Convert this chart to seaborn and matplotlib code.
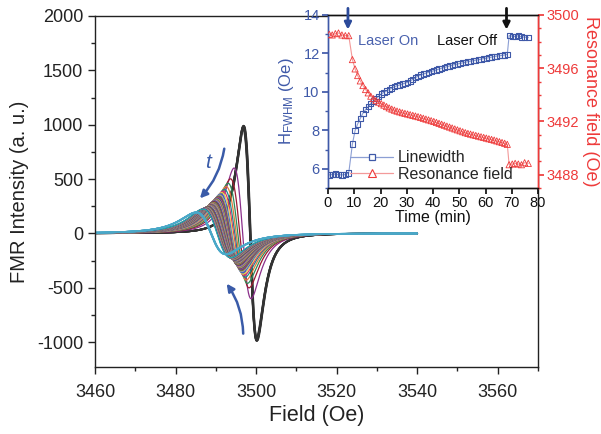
import numpy as np
import pandas as pd
import matplotlib
matplotlib.use("Agg")
import matplotlib.pyplot as plt
import seaborn as sns
from matplotlib.lines import Line2D
from matplotlib.ticker import MultipleLocator

# ---------------- data ----------------
time_pre = [0.5, 1.6, 2.8, 4.0, 5.3, 6.6, 7.9]
lw_pre = [5.68, 5.70, 5.73, 5.69, 5.68, 5.70, 5.78]
rf_pre = [3498.55, 3498.50, 3498.60, 3498.65, 3498.50, 3498.45, 3498.45]

time_on = [9.3, 10.3, 11.3, 12.3, 13.3, 14.3, 15.3, 16.3, 17.3, 18.3,
           19.3, 20.3, 21.3, 22.3, 23.3, 24.3, 25.3, 26.3, 27.3, 28.3,
           29.3, 30.3, 31.3, 32.3, 33.3, 34.3, 35.3, 36.3, 37.3, 38.3,
           39.3, 40.3, 41.3, 42.3, 43.3, 44.3, 45.3, 46.3, 47.3, 48.3,
           49.3, 50.3, 51.3, 52.3, 53.3, 54.3, 55.3, 56.3, 57.3, 58.3,
           59.3, 60.3, 61.3, 62.3, 63.3, 64.3, 65.3, 66.3, 67.3, 68.3]
lw_on = [7.29, 7.98, 8.33, 8.62, 8.89, 9.08, 9.23, 9.38, 9.53, 9.66,
         9.78, 9.89, 9.98, 10.05, 10.12, 10.20, 10.27, 10.32, 10.36, 10.41,
         10.45, 10.50, 10.57, 10.65, 10.74, 10.82, 10.88, 10.93, 10.97, 11.02,
         11.06, 11.10, 11.14, 11.19, 11.23, 11.27, 11.31, 11.35, 11.39, 11.42,
         11.45, 11.48, 11.51, 11.54, 11.57, 11.60, 11.62, 11.65, 11.67, 11.70,
         11.73, 11.75, 11.78, 11.81, 11.84, 11.86, 11.88, 11.90, 11.92, 11.95]
rf_on = [3496.65, 3495.95, 3495.45, 3495.05, 3494.70, 3494.40, 3494.15, 3493.90, 3493.72, 3493.57,
         3493.45, 3493.34, 3493.23, 3493.12, 3493.02, 3492.93, 3492.85, 3492.78, 3492.72, 3492.66,
         3492.61, 3492.56, 3492.51, 3492.46, 3492.41, 3492.36, 3492.30, 3492.24, 3492.18, 3492.12,
         3492.06, 3492.00, 3491.93, 3491.86, 3491.79, 3491.72, 3491.65, 3491.58, 3491.51, 3491.44,
         3491.37, 3491.30, 3491.23, 3491.16, 3491.10, 3491.05, 3491.00, 3490.95, 3490.90, 3490.85,
         3490.80, 3490.75, 3490.70, 3490.65, 3490.60, 3490.54, 3490.48, 3490.42, 3490.36, 3490.28]

time_off = [69.0, 70.2, 71.3, 72.5, 73.7, 74.9, 76.3]
lw_off = [12.93, 12.90, 12.88, 12.92, 12.86, 12.85, 12.83]
rf_off = [3488.75, 3488.80, 3488.85, 3488.80, 3488.75, 3488.90, 3488.85]

peak_first = 990.0          # peak height of the first FMR derivative curve (a.u.)

x_ticks = [3460, 3480, 3500, 3520, 3540, 3560]
y_ticks = [-1000, -500, 0, 500, 1000, 1500, 2000]

time_all = time_pre + time_on + time_off
lw_all = lw_pre + lw_on + lw_off
rf_all = rf_pre + rf_on + rf_off

# ---------------- styling ----------------
sns.set_theme(style="ticks")
plt.rcParams["font.family"] = ["Liberation Sans", "DejaVu Sans"]
plt.rcParams["mathtext.fontset"] = "custom"
plt.rcParams["mathtext.rm"] = "Liberation Sans"
plt.rcParams["mathtext.it"] = "Liberation Sans:italic"
plt.rcParams["axes.unicode_minus"] = False

BLUE = "#3F59A8"
LBLUE = "#8C9FD4"
RED = "#EE3A3A"
LRED = "#F39A9A"

palette_cycle = ["#8B2F8B", "#9B1B30", "#2E8B57", "#E07B39", "#1F8A8A", "#D6336C",
                 "#E8D44D", "#3A5FCD", "#A0A0A0", "#7B7B2E", "#5B3A8C", "#C85A5A",
                 "#2F2F8F", "#8FBC8F", "#B8860B", "#6A5ACD", "#CD853F", "#C8C8C8",
                 "#4B0082", "#20B2AA"]

# ---------------- FMR derivative curves (Lorentzian derivative model) ----------------
field = np.arange(3460.0, 3540.05, 0.1)
frames = []
colors = {}
n_pre, n_on = len(time_pre), len(time_on)
for k, (h0, dh) in enumerate(zip(rf_all, lw_all)):
    w = dh / 2.0
    u = (field - h0) / w
    shape = -2 * u / (1 + u ** 2) ** 2 / 0.6495
    amp = peak_first * (lw_all[0] / dh) ** 2
    name = f"c{k:03d}"
    frames.append(pd.DataFrame({"field": field, "intensity": amp * shape, "curve": name}))
    if k < n_pre:
        colors[name] = "#333333"
    elif k < n_pre + n_on:
        colors[name] = palette_cycle[(k - n_pre) % len(palette_cycle)]
    else:
        colors[name] = "#4AA8C8"
df = pd.concat(frames, ignore_index=True)

fig = plt.figure(figsize=(6.01, 4.34), dpi=100)
W, H = 601, 434
ax = fig.add_axes([95 / W, 1 - 367 / H, (538 - 95) / W, (367 - 16) / H])

sns.lineplot(data=df, x="field", y="intensity", hue="curve", palette=colors,
             hue_order=list(colors.keys()), estimator=None, sort=False,
             legend=False, linewidth=0.9, ax=ax)
for i, line in enumerate(ax.lines):
    if i < n_pre:
        line.set_linewidth(1.3)
    elif i >= n_pre + n_on:
        line.set_linewidth(1.2)

ax.set_xlim(3460, 3570)
ax.set_ylim(-1230, 2000)
ax.set_xticks(x_ticks)
ax.set_yticks(y_ticks)
ax.xaxis.set_minor_locator(MultipleLocator(10))
ax.yaxis.set_minor_locator(MultipleLocator(250))
ax.tick_params(which="both", direction="out", top=False, right=False,
               labelsize=13, colors="#222222", width=1)
ax.tick_params(which="major", length=5)
ax.tick_params(which="minor", length=3)
ax.tick_params(axis="x", which="major", pad=7)
for s in ax.spines.values():
    s.set_color("#222222")
    s.set_linewidth(1.0)
ax.set_xlabel("Field (Oe)", fontsize=15.5, color="#222222", labelpad=3)
ax.set_ylabel("FMR Intensity (a. u.)", fontsize=14.5, color="#222222", labelpad=6)

arrow_kw = dict(arrowstyle="-|>", color="#3A5BA8", lw=1.8, mutation_scale=11,
                shrinkA=0, shrinkB=0)
ax.annotate("", xy=(3486.05, 322), xytext=(3492.1, 779),
            arrowprops=dict(connectionstyle="arc3,rad=-0.15", **arrow_kw))
ax.annotate("", xy=(3492.7, -463), xytext=(3496.8, -923),
            arrowprops=dict(connectionstyle="arc3,rad=0.15", **arrow_kw))
ax.text(3488.1, 656, "t", fontsize=15, style="italic", color="#3A5BA8",
        ha="center", va="center")

# ---------------- inset ----------------
ax2 = fig.add_axes([328 / W, 1 - 188 / H, (538 - 328) / W, (188 - 15) / H])
ax2.set_facecolor("white")
ax3 = ax2.twinx()

sns.lineplot(x=time_all, y=lw_all, ax=ax2, color=LBLUE, linewidth=0.8,
             estimator=None, sort=False)
sns.scatterplot(x=time_all, y=lw_all, ax=ax2, marker="s", s=14,
                facecolor="none", edgecolor=BLUE, linewidth=0.8, zorder=3)
sns.lineplot(x=time_all, y=rf_all, ax=ax3, color=LRED, linewidth=0.8,
             estimator=None, sort=False)
sns.scatterplot(x=time_all, y=rf_all, ax=ax3, marker="^", s=20,
                facecolor="none", edgecolor=RED, linewidth=0.6, zorder=3)

ax2.set_xlim(0, 80)
ax2.set_ylim(5.0, 14.0)
ax3.set_ylim(3487.0, 3500.0)
ax2.set_xticks([0, 10, 20, 30, 40, 50, 60, 70, 80])
ax2.set_yticks([6, 8, 10, 12, 14])
ax2.yaxis.set_minor_locator(MultipleLocator(1))
ax3.set_yticks([3488, 3492, 3496, 3500])
ax3.yaxis.set_minor_locator(MultipleLocator(1))

ax2.tick_params(axis="x", which="both", direction="out", length=4, labelsize=10.5,
                colors="#111111", pad=2, top=False)
ax2.tick_params(axis="y", which="major", direction="out", length=4, labelsize=10.5,
                colors=BLUE, pad=2)
ax2.tick_params(axis="y", which="minor", direction="out", length=2.5, colors=BLUE)
ax3.tick_params(axis="y", which="major", direction="out", length=4, labelsize=10.5,
                colors=RED, pad=2)
ax3.tick_params(axis="y", which="minor", direction="out", length=2.5, colors=RED)
for a in (ax2, ax3):
    a.spines["left"].set_color(BLUE)
    a.spines["right"].set_color(RED)
    a.spines["top"].set_color("#111111")
    a.spines["bottom"].set_color("#111111")
    for s in a.spines.values():
        s.set_linewidth(1.0)

ax2.set_xlabel("Time (min)", fontsize=11.5, color="#111111", labelpad=0)
ax2.set_ylabel(r"H$_{\mathrm{FWHM}}$ (Oe)", fontsize=12, color=BLUE, labelpad=5)
ax3.set_ylabel("Resonance field (Oe)", fontsize=13, color=RED, rotation=270,
               labelpad=14)

ax3.annotate("", xy=(7.6, 3498.9), xytext=(7.6, 3500.5),
             arrowprops=dict(arrowstyle="-|>", color="#2B4A9A", lw=2.0,
                             mutation_scale=10, shrinkA=0, shrinkB=0),
             annotation_clip=False)
ax3.annotate("", xy=(68.0, 3498.9), xytext=(68.0, 3500.5),
             arrowprops=dict(arrowstyle="-|>", color="#111111", lw=2.0,
                             mutation_scale=10, shrinkA=0, shrinkB=0),
             annotation_clip=False)
ax2.text(11.4, 12.65, "Laser On", color="#4A62AE", fontsize=10.5, ha="left", va="center")
ax2.text(41.4, 12.65, "Laser Off", color="#111111", fontsize=10.5, ha="left", va="center")

handles = [
    Line2D([0], [0], color=LBLUE, lw=0.9, marker="s", ms=5, mfc="white", mec=BLUE, mew=0.9),
    Line2D([0], [0], color=LRED, lw=0.9, marker="^", ms=6, mfc="white", mec=RED, mew=0.8),
]
ax3.legend(handles, ["Linewidth", "Resonance field"], loc="lower left",
           bbox_to_anchor=(0.06, -0.02), frameon=False, fontsize=11.5,
           handlelength=2.7, handletextpad=0.3, labelspacing=0.1,
           borderaxespad=0.2)

fig.savefig("out.png", dpi=100)
